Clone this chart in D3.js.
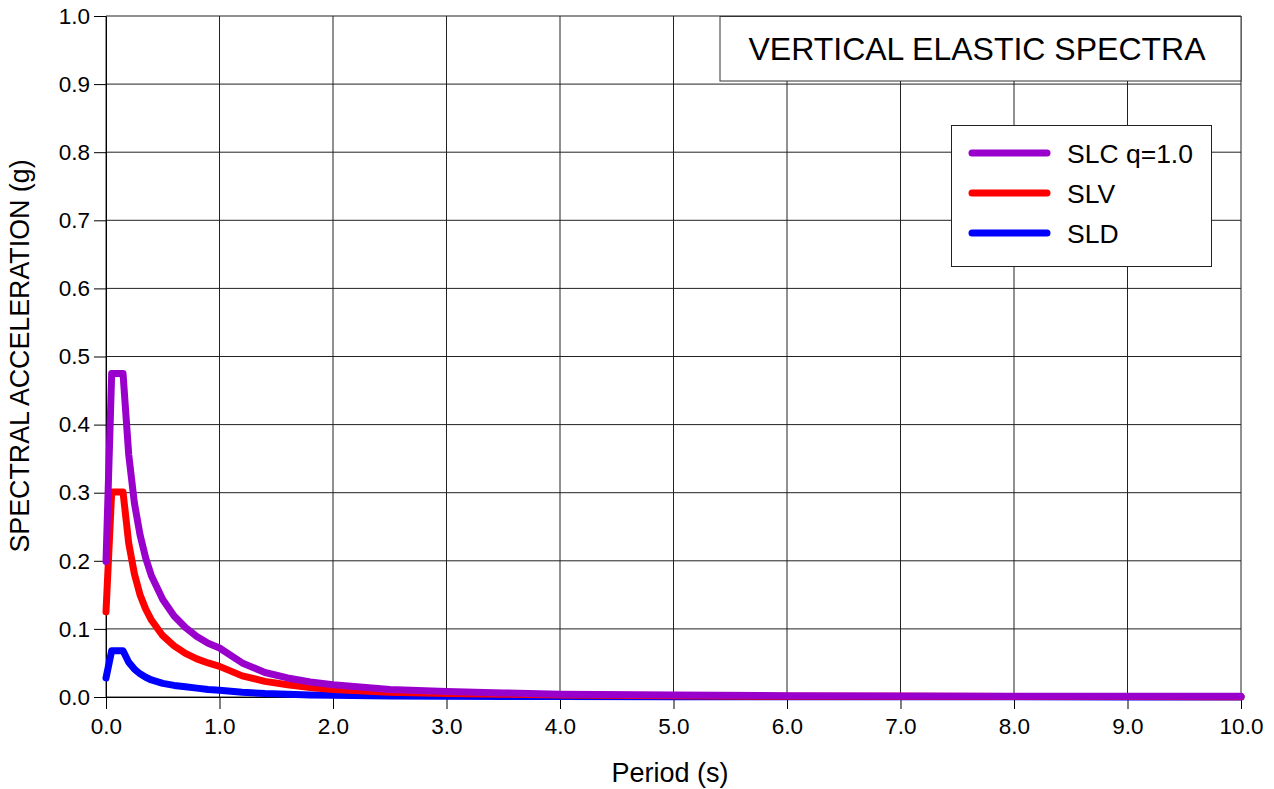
<!DOCTYPE html>
<html>
<head>
<meta charset="utf-8">
<script src="https://cdn.jsdelivr.net/npm/d3@7"></script>
<style>
  html, body { margin: 0; padding: 0; background: #fff; }
  svg { display: block; font-family: "Liberation Sans", Arial, sans-serif; }
</style>
</head>
<body>
<svg id="chart" width="1274" height="789"></svg>
<script>
// Vertical elastic response spectra: period (s) vs spectral acceleration (g)
const periods = [0, 0.05, 0.15, 0.2, 0.25, 0.3, 0.35, 0.4, 0.5, 0.6, 0.7, 0.8, 0.9, 1.0,
                 1.2, 1.4, 1.6, 1.8, 2.0, 2.5, 3.0, 3.5, 4.0, 5.0, 6.0, 7.0, 8.0, 9.0, 10.0];
const slc = [0.199, 0.475, 0.475, 0.356, 0.285, 0.238, 0.204, 0.178, 0.143, 0.119, 0.102, 0.089, 0.079, 0.072,
             0.050, 0.036, 0.028, 0.022, 0.018, 0.011, 0.008, 0.006, 0.004, 0.003, 0.002, 0.0015, 0.001, 0.001, 0.001];
const slv = [0.125, 0.301, 0.301, 0.226, 0.181, 0.150, 0.129, 0.113, 0.090, 0.075, 0.064, 0.056, 0.050, 0.045,
             0.031, 0.023, 0.018, 0.014, 0.011, 0.007, 0.005, 0.004, 0.003, 0.002, 0.001, 0.001, 0.0007, 0.0006, 0.0005];
const sld = [0.028, 0.068, 0.068, 0.051, 0.041, 0.034, 0.029, 0.025, 0.020, 0.017, 0.015, 0.013, 0.011, 0.010,
             0.007, 0.005, 0.004, 0.003, 0.0025, 0.0016, 0.0011, 0.0008, 0.0006, 0.0004, 0.0003, 0.0002, 0.0002, 0.0001, 0.0001];

const seriesNames = ["SLC q=1.0", "SLV", "SLD"];
const seriesColors = ["#9900cc", "#ff0000", "#0000ff"];
const seriesValues = [slc, slv, sld];

const xTicks = [0, 1, 2, 3, 4, 5, 6, 7, 8, 9, 10];
const xTickLabels = ["0.0", "1.0", "2.0", "3.0", "4.0", "5.0", "6.0", "7.0", "8.0", "9.0", "10.0"];
const yTicks = [0, 0.1, 0.2, 0.3, 0.4, 0.5, 0.6, 0.7, 0.8, 0.9, 1.0];
const yTickLabels = ["0.0", "0.1", "0.2", "0.3", "0.4", "0.5", "0.6", "0.7", "0.8", "0.9", "1.0"];

const titleText = "VERTICAL ELASTIC SPECTRA";
const xTitle = "Period (s)";
const yTitle = "SPECTRAL ACCELERATION (g)";

const svg = d3.select("#chart");
const plotLeft = 106, plotRight = 1241, plotTop = 16, plotBottom = 697;

const x = d3.scaleLinear().domain([0, 10]).range([plotLeft, plotRight]);
const y = d3.scaleLinear().domain([0, 1]).range([plotBottom, plotTop]);

// grid
const grid = svg.append("g").attr("stroke", "#222").attr("stroke-width", 1);
grid.selectAll("line.v").data(xTicks).join("line").attr("class", "v")
  .attr("x1", d => x(d)).attr("x2", d => x(d)).attr("y1", plotTop).attr("y2", plotBottom);
grid.selectAll("line.h").data(yTicks).join("line").attr("class", "h")
  .attr("x1", plotLeft).attr("x2", plotRight).attr("y1", d => y(d)).attr("y2", d => y(d));

// axes
const xAxis = d3.axisBottom(x).tickValues(xTicks).tickSize(12).tickSizeOuter(0).tickPadding(9)
  .tickFormat((d, i) => xTickLabels[i]);
const yAxis = d3.axisLeft(y).tickValues(yTicks).tickSize(12).tickSizeOuter(0).tickPadding(4)
  .tickFormat((d, i) => yTickLabels[i]);

const gx = svg.append("g").attr("transform", `translate(0,${plotBottom})`).call(xAxis);
const gy = svg.append("g").attr("transform", `translate(${plotLeft},0)`).call(yAxis);
[gx, gy].forEach(g => {
  g.selectAll("text").attr("font-size", 22.5).attr("fill", "#000")
    .attr("font-family", '"Liberation Sans", Arial, sans-serif');
  g.selectAll("line").attr("stroke", "#000");
  g.select(".domain").attr("stroke", "#000");
});

// axis titles
svg.append("text").attr("x", 670).attr("y", 782).attr("text-anchor", "middle")
  .attr("font-size", 27).text(xTitle);
svg.append("text").attr("transform", "translate(29,356) rotate(-90)").attr("text-anchor", "middle")
  .attr("font-size", 26.8).text(yTitle);

// spectra (drawn SLD first so SLC sits on top)
const line = d3.line().x((d, i) => x(periods[i])).y(d => y(d));
const order = [2, 1, 0];
svg.append("g").selectAll("path").data(order).join("path")
  .attr("d", k => line(seriesValues[k]))
  .attr("fill", "none")
  .attr("stroke", k => seriesColors[k])
  .attr("stroke-width", 7)
  .attr("stroke-linecap", "round")
  .attr("stroke-linejoin", "round");

// title box
const tb = svg.append("g");
tb.append("rect").attr("x", 720).attr("y", 16.5).attr("width", 521).attr("height", 64.5)
  .attr("fill", "#fff").attr("stroke", "#333").attr("stroke-width", 1);
tb.append("text").attr("x", 977).attr("y", 60).attr("text-anchor", "middle")
  .attr("font-size", 32).text(titleText);

// legend
const lg = svg.append("g");
lg.append("rect").attr("x", 951.5).attr("y", 125.5).attr("width", 260).attr("height", 141)
  .attr("fill", "#fff").attr("stroke", "#222").attr("stroke-width", 1);
const rows = lg.selectAll("g.row").data(seriesNames).join("g").attr("class", "row")
  .attr("transform", (d, i) => `translate(0,${153 + i * 40})`);
rows.append("line").attr("x1", 972).attr("x2", 1047).attr("y1", 0).attr("y2", 0)
  .attr("stroke", (d, i) => seriesColors[i]).attr("stroke-width", 7).attr("stroke-linecap", "round");
rows.append("text").attr("x", 1067).attr("y", 9.5).attr("font-size", 26.5).text(d => d);
</script>
</body>
</html>
